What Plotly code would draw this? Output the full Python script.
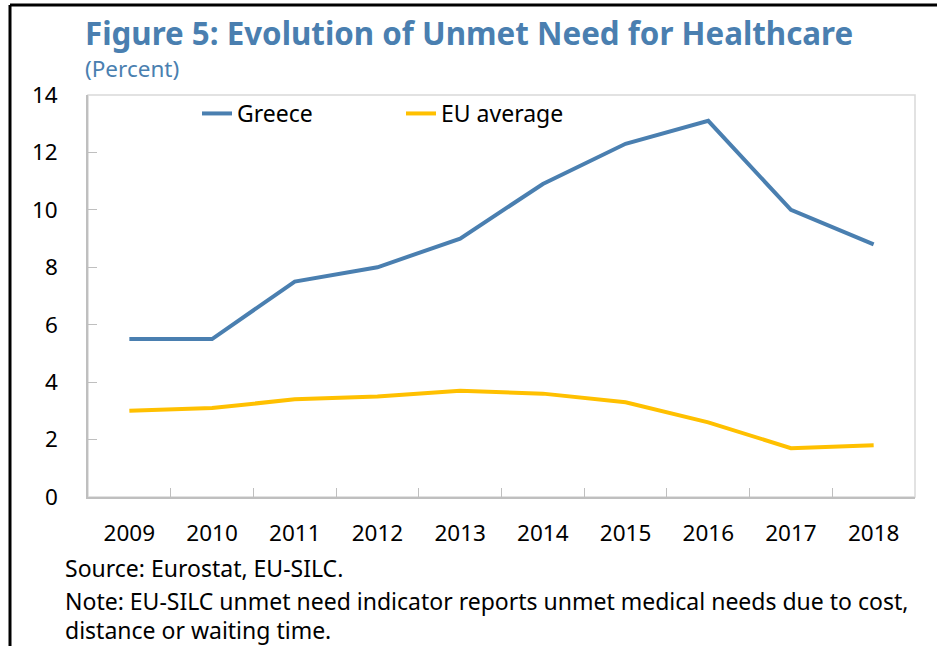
import plotly.graph_objects as go

years = ["2009", "2010", "2011", "2012", "2013", "2014", "2015", "2016", "2017", "2018"]
greece = [5.5, 5.5, 7.5, 8.0, 9.0, 10.9, 12.3, 13.1, 10.0, 8.8]
eu_avg = [3.0, 3.1, 3.4, 3.5, 3.7, 3.6, 3.3, 2.6, 1.7, 1.8]
y_ticks = [0, 2, 4, 6, 8, 10, 12, 14]

W, H = 937, 646
L, R, T, B = 88, 915, 95, 497

FONT = "Noto Sans"
BLUE = "#4a7fb0"
GOLD = "#ffc000"

def px(x):
    return (x - L) / (R - L)

def py(y):
    return (B - y) / (B - T)

fig = go.Figure()
fig.add_trace(go.Scatter(x=years, y=greece, mode="lines", name="Greece",
                         line=dict(color=BLUE, width=4)))
fig.add_trace(go.Scatter(x=years, y=eu_avg, mode="lines", name="EU average",
                         line=dict(color=GOLD, width=4)))

fig.update_layout(
    width=W, height=H,
    margin=dict(l=L, r=W - R, t=T, b=H - B, pad=0),
    paper_bgcolor="white", plot_bgcolor="white",
    font=dict(family=FONT, size=22, color="black"),
    showlegend=True,
    legend=dict(orientation="h", x=px(197), y=py(92), xanchor="left", yanchor="top",
                entrywidth=159, entrywidthmode="pixels",
                font=dict(family=FONT, size=23, color="black"),
                bgcolor="rgba(0,0,0,0)", itemwidth=30),
)
fig.update_xaxes(type="category", range=[-0.5, len(years) - 0.5], showgrid=False, showline=True,
                 linecolor="#bfbfbf", linewidth=1.5,
                 ticks="inside", tickson="boundaries", ticklen=9, tickcolor="#bfbfbf",
                 tickfont=dict(family=FONT, size=22.5, color="black"), ticklabelstandoff=15,
                 zeroline=False)
fig.update_yaxes(range=[0, 14], tickvals=y_ticks, showgrid=False, showline=True, linecolor="#bfbfbf",
                 linewidth=1.5, ticks="inside", ticklen=9, tickcolor="#bfbfbf",
                 tickfont=dict(family=FONT, size=22.5, color="black"), ticklabelstandoff=24,
                 zeroline=False)

# light plot frame (top/right)
fig.add_shape(type="rect", xref="paper", yref="paper", x0=0, x1=1, y0=0, y1=1,
              line=dict(color="#d9d9d9", width=1.5), layer="below")
# outer black border (left & top)
fig.add_shape(type="line", xref="paper", yref="paper", x0=px(10), x1=px(10), y0=py(5), y1=py(660),
              line=dict(color="black", width=3))
fig.add_shape(type="line", xref="paper", yref="paper", x0=px(10), x1=px(960), y0=py(5), y1=py(5),
              line=dict(color="black", width=3))

def note(text, x, y, size, color="black", bold=False):
    fig.add_annotation(text=f"<b>{text}</b>" if bold else text, xref="paper", yref="paper",
                       x=px(x), y=py(y), xanchor="left", yanchor="middle", showarrow=False,
                       borderpad=0, font=dict(family=FONT, size=size, color=color))

note("Figure 5: Evolution of Unmet Need for Healthcare", 84, 33, 31.3, BLUE, bold=True)
note("(Percent)", 84, 69, 22.5, BLUE)
note("Source: Eurostat, EU-SILC.", 64, 568, 23)
note("Note: EU-SILC unmet need indicator reports unmet medical needs due to cost,", 64, 601, 23)
note("distance or waiting time.", 64, 630, 23)

fig.write_html("out.html", config={"displayModeBar": False},
               post_script="document.body.style.margin='0';")
